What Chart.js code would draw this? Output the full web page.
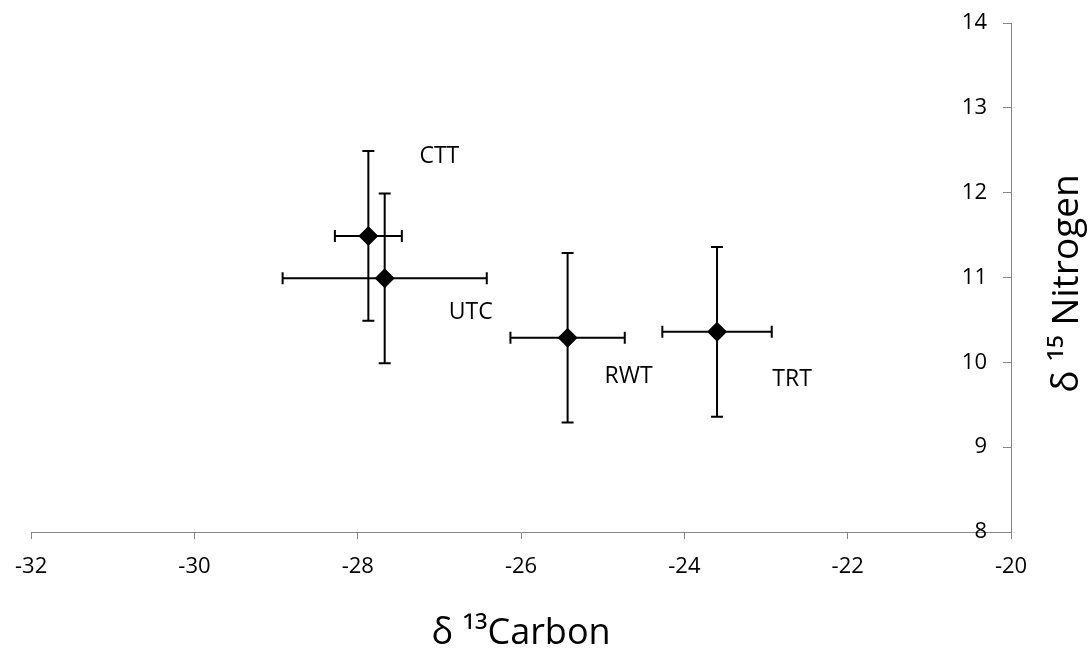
<!DOCTYPE html>
<html>
<head>
<meta charset="utf-8">
<title>Carbon / Nitrogen isotopes</title>
<script src="https://cdn.jsdelivr.net/npm/chart.js@4.4.1/dist/chart.umd.min.js"></script>
<style>
    html, body { margin: 0; padding: 0; background: #fff; }
    #wrap { width: 1090px; height: 658px; position: relative; }
</style>
</head>
<body>
<div id="wrap"><canvas id="isoChart"></canvas></div>
<script>
// Site data
const sites = ['CTT', 'UTC', 'RWT', 'TRT'];
const carbon = [-27.87, -27.67, -25.43, -23.60];
const nitrogen = [11.49, 10.99, 10.29, 10.36];
const carbonErr = [0.41, 1.25, 0.70, 0.67];
const nitrogenErr = [1.0, 1.0, 1.0, 1.0];

// Axis ticks
const xTicks = [-32, -30, -28, -26, -24, -22, -20];
const yTicks = [8, 9, 10, 11, 12, 13, 14];

// Where each site name sits relative to its marker (px)
const labelOffsets = [[71, -79], [86, 34], [61, 39], [75, 48]];

const FONT = "'Open Sans', 'DejaVu Sans', sans-serif";
const AXIS_GREY = '#868686';

// Error bars, drawn under the markers
const errorBars = {
    id: 'errorBars',
    beforeDatasetsDraw(chart) {
        const ctx = chart.ctx;
        const xs = chart.scales.x;
        const ys = chart.scales.y;
        const cap = 6;
        ctx.save();
        ctx.strokeStyle = '#000';
        ctx.lineWidth = 2;
        for (let i = 0; i < sites.length; i++) {
            const cx = xs.getPixelForValue(carbon[i]);
            const cy = ys.getPixelForValue(nitrogen[i]);
            const x0 = xs.getPixelForValue(carbon[i] - carbonErr[i]);
            const x1 = xs.getPixelForValue(carbon[i] + carbonErr[i]);
            const y0 = ys.getPixelForValue(nitrogen[i] + nitrogenErr[i]);
            const y1 = ys.getPixelForValue(nitrogen[i] - nitrogenErr[i]);
            ctx.beginPath();
            ctx.moveTo(x0, cy); ctx.lineTo(x1, cy);
            ctx.moveTo(x0, cy - cap); ctx.lineTo(x0, cy + cap);
            ctx.moveTo(x1, cy - cap); ctx.lineTo(x1, cy + cap);
            ctx.moveTo(cx, y0); ctx.lineTo(cx, y1);
            ctx.moveTo(cx - cap, y0); ctx.lineTo(cx + cap, y0);
            ctx.moveTo(cx - cap, y1); ctx.lineTo(cx + cap, y1);
            ctx.stroke();
        }
        ctx.restore();
    }
};

// Site names + rotated y title (reads bottom to top)
const annotations = {
    id: 'annotations',
    afterDatasetsDraw(chart) {
        const ctx = chart.ctx;
        const xs = chart.scales.x;
        const ys = chart.scales.y;
        ctx.save();
        ctx.fillStyle = '#000';
        ctx.font = '23px ' + FONT;
        ctx.textAlign = 'center';
        ctx.textBaseline = 'middle';
        sites.forEach((name, i) => {
            const px = xs.getPixelForValue(carbon[i]) + labelOffsets[i][0];
            const py = ys.getPixelForValue(nitrogen[i]) + labelOffsets[i][1];
            ctx.fillText(name, px, py);
        });

        const area = chart.chartArea;
        ctx.translate(1067, (area.top + area.bottom) / 2 + 6);
        ctx.rotate(-Math.PI / 2);
        ctx.font = '37px ' + FONT;
        ctx.fillText('δ ¹⁵ Nitrogen', 0, 0);
        ctx.restore();
    }
};

function initChart() {
    const ctx = document.getElementById('isoChart').getContext('2d');
    new Chart(ctx, {
        type: 'scatter',
        data: {
            datasets: [{
                data: carbon.map((c, i) => ({ x: c, y: nitrogen[i] })),
                pointStyle: 'rectRot',
                pointRadius: 10,
                pointHoverRadius: 10,
                backgroundColor: '#000',
                borderColor: '#000',
                borderWidth: 0
            }]
        },
        options: {
            responsive: true,
            maintainAspectRatio: false,
            animation: false,
            layout: { padding: { left: 28, top: 23, right: 0, bottom: 0 } },
            plugins: {
                legend: { display: false },
                tooltip: { enabled: false }
            },
            scales: {
                x: {
                    type: 'linear',
                    position: 'bottom',
                    min: xTicks[0],
                    max: xTicks[xTicks.length - 1],
                    afterBuildTicks: axis => { axis.ticks = xTicks.map(v => ({ value: v })); },
                    afterFit: axis => { axis.height = 126; },
                    border: { display: true, color: AXIS_GREY, width: 1 },
                    grid: { drawOnChartArea: false, drawTicks: true, tickLength: 7, color: AXIS_GREY },
                    ticks: { color: '#000', padding: 15, maxRotation: 0, font: { family: FONT, size: 22 } },
                    title: {
                        display: true,
                        text: 'δ ¹³Carbon',
                        color: '#000',
                        font: { family: FONT, size: 36 },
                        padding: { top: 0, bottom: 3 }
                    }
                },
                y: {
                    type: 'linear',
                    position: 'right',
                    min: yTicks[0],
                    max: yTicks[yTicks.length - 1],
                    afterBuildTicks: axis => { axis.ticks = yTicks.map(v => ({ value: v })); },
                    afterFit: axis => { axis.width = 79; },
                    border: { display: true, color: AXIS_GREY, width: 1 },
                    grid: { drawOnChartArea: false, drawTicks: true, tickLength: -8, color: AXIS_GREY },
                    ticks: { color: '#000', mirror: true, padding: -24, font: { family: FONT, size: 22 } }
                }
            }
        },
        plugins: [errorBars, annotations]
    });
}

document.addEventListener('DOMContentLoaded', initChart);
</script>
</body>
</html>
